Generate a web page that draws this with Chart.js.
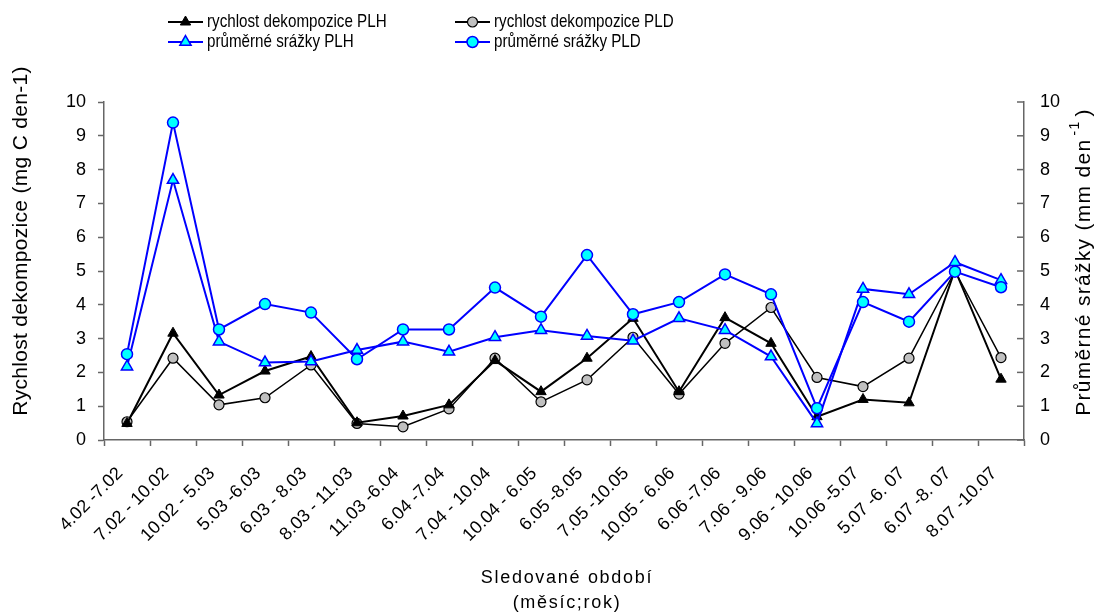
<!DOCTYPE html>
<html><head><meta charset="utf-8">
<script src="https://cdn.jsdelivr.net/npm/chart.js@4/dist/chart.umd.min.js"></script>
<style>html,body{margin:0;padding:0;background:#fff}#wrap{width:1105px;height:615px}</style>
</head><body><div id="wrap"><canvas id="c" width="1105" height="615"></canvas></div>
<script>
const categories = ["4.02 -7.02","7.02 - 10.02","10.02 - 5.03","5.03 -6.03","6.03 - 8.03","8.03 - 11.03","11.03 -6.04","6.04 -7.04","7.04 - 10.04","10.04 - 6.05","6.05 -8.05","7.05 -10.05","10.05 - 6.06","6.06 -7.06","7.06 - 9.06","9.06 - 10.06","10.06 -5.07","5.07 -6. 07","6.07 -8. 07","8.07 -10.07"];
const rychlostPLH = [0.49,3.16,1.33,2.04,2.47,0.51,0.71,1.04,2.35,1.43,2.42,3.60,1.43,3.62,2.86,0.69,1.20,1.10,5.03,1.80];
const rychlostPLD = [0.54,2.42,1.04,1.25,2.22,0.49,0.39,0.92,2.42,1.13,1.78,3.04,1.36,2.86,3.92,1.85,1.58,2.42,5.00,2.44];
const srazkyPLH = [2.17,7.69,2.91,2.29,2.32,2.66,2.91,2.61,3.04,3.25,3.08,2.94,3.60,3.25,2.47,0.49,4.47,4.31,5.26,4.73];
const srazkyPLD = [2.54,9.39,3.27,4.02,3.77,2.39,3.27,3.27,4.51,3.65,5.47,3.72,4.08,4.90,4.31,0.94,4.08,3.50,4.98,4.52];
const yTicks = [0,1,2,3,4,5,6,7,8,9,10];
const xTitle = ['Sledované období', '(měsíc;rok)'];
const yTitle = 'Rychlost dekompozice (mg C den-1)';
const y1TitleMain = 'Průměrné srážky (mm den';
const y1TitleSup = '-1';
const y1TitleEnd = ')';

const FONT = "'Liberation Sans', Arial, sans-serif";

const decorPlugin = {
  id: 'decor',
  afterDraw(chart) {
    const ctx = chart.ctx;
    ctx.save();
    // legend
    const pos = [[168,22],[455,22],[168,42],[455,42]];
    chart.data.datasets.forEach((ds, k) => {
      const [x, y] = pos[k];
      ctx.strokeStyle = ds.borderColor;
      ctx.lineWidth = 2;
      ctx.beginPath(); ctx.moveTo(x, y); ctx.lineTo(x + 35, y); ctx.stroke();
      ctx.fillStyle = ds.pointBackgroundColor;
      ctx.strokeStyle = ds.pointBorderColor;
      ctx.lineWidth = ds.pointBorderWidth;
      Chart.helpers.drawPoint(ctx, {pointStyle: ds.pointStyle, radius: ds.pointRadius, rotation: 0, borderWidth: ds.pointBorderWidth}, x + 17.5, y);
      ctx.save();
      ctx.fillStyle = '#000';
      ctx.font = '18.5px ' + FONT;
      ctx.textBaseline = 'middle';
      ctx.textAlign = 'left';
      ctx.translate(x + 39, y);
      ctx.scale(0.82, 1);
      ctx.fillText(ds.label, 0, 0);
      ctx.restore();
    });
    // right-axis inward ticks
    const s1 = chart.scales.y1;
    ctx.strokeStyle = '#666';
    ctx.lineWidth = 1.5;
    yTicks.forEach(v => {
      const py = s1.getPixelForValue(v);
      ctx.beginPath(); ctx.moveTo(s1.left - 7, py); ctx.lineTo(s1.left, py); ctx.stroke();
    });
    // x title
    ctx.fillStyle = '#000';
    ctx.textAlign = 'center';
    ctx.textBaseline = 'middle';
    ctx.font = '18px ' + FONT;
    ctx.letterSpacing = '1.7px';
    const cx = (chart.chartArea.left + chart.chartArea.right) / 2 + 3;
    ctx.fillText(xTitle[0], cx, 578);
    ctx.fillText(xTitle[1], cx, 603);
    // left title
    ctx.font = '21px ' + FONT;
    ctx.letterSpacing = '0.3px';
    ctx.save();
    ctx.translate(21, 241);
    ctx.rotate(-Math.PI / 2);
    ctx.fillText(yTitle, 0, 0);
    ctx.restore();
    // right title with superscript
    ctx.save();
    ctx.translate(1084, 262);
    ctx.rotate(-Math.PI / 2);
    ctx.textAlign = 'left';
    ctx.font = '21px ' + FONT;
    ctx.letterSpacing = '1.3px';
    const w1 = ctx.measureText(y1TitleMain).width;
    ctx.font = '14px ' + FONT;
    const w2 = ctx.measureText(y1TitleSup).width + 4;
    ctx.font = '21px ' + FONT;
    const w3 = ctx.measureText(y1TitleEnd).width;
    const total = w1 + w2 + w3 + 3;
    let xx = -total / 2;
    ctx.fillText(y1TitleMain, xx, 0); xx += w1 + 3;
    ctx.font = '14px ' + FONT;
    ctx.fillText(y1TitleSup, xx, -9); xx += w2;
    ctx.font = '21px ' + FONT;
    ctx.fillText(y1TitleEnd, xx, 0);
    ctx.restore();
    ctx.letterSpacing = '0px';
    ctx.restore();
  }
};

new Chart(document.getElementById('c'), {
  type: 'line',
  data: {
    labels: categories,
    datasets: [
      {label:'rychlost dekompozice PLH', data: rychlostPLH, yAxisID:'y', borderColor:'#000', borderWidth:2, pointStyle:'triangle', pointRadius:6, pointBackgroundColor:'#000', pointBorderColor:'#000', pointBorderWidth:1, tension:0, order:2},
      {label:'rychlost dekompozice PLD', data: rychlostPLD, yAxisID:'y', borderColor:'#000', borderWidth:1.5, pointStyle:'circle', pointRadius:5, pointBackgroundColor:'#c0c0c0', pointBorderColor:'#000', pointBorderWidth:1.2, tension:0, order:3},
      {label:'průměrné srážky PLH', data: srazkyPLH, yAxisID:'y1', borderColor:'#0000ff', borderWidth:2, pointStyle:'triangle', pointRadius:6.5, pointBackgroundColor:'#00ffff', pointBorderColor:'#0000ff', pointBorderWidth:1.5, tension:0, order:1},
      {label:'průměrné srážky PLD', data: srazkyPLD, yAxisID:'y1', borderColor:'#0000ff', borderWidth:2, pointStyle:'circle', pointRadius:5.5, pointBackgroundColor:'#00ffff', pointBorderColor:'#0000ff', pointBorderWidth:1.5, tension:0, order:0}
    ]
  },
  options: {
    responsive: false,
    animation: false,
    layout: {padding: {top: 102, right: 0, left: 0, bottom: 0}},
    plugins: {legend: {display:false}, tooltip: {enabled:false}},
    scales: {
      x: {
        offset: true,
        grid: {offset: true, drawOnChartArea: false, color:'#666', tickLength: 6, tickWidth: 1.5},
        border: {color:'#666', width: 1.5},
        ticks: {color:'#000', font:{family:FONT, size:18}, maxRotation:45, minRotation:45, autoSkip:false, padding: 17, labelOffset: -7},
        afterFit(s){ s.height = 175; }
      },
      y: {
        position:'left', min:0, max:10,
        afterBuildTicks(s){ s.ticks = yTicks.map(v=>({value:v})); },
        grid: {drawOnChartArea:false, color:'#666', tickLength:6, tickWidth:1.5},
        border: {color:'#666', width:1.5},
        ticks: {color:'#000', font:{family:FONT, size:18}, padding: 12},
        afterFit(s){ s.width = 104; }
      },
      y1: {
        position:'right', min:0, max:10,
        afterBuildTicks(s){ s.ticks = yTicks.map(v=>({value:v})); },
        grid: {drawOnChartArea:false, drawTicks:false, color:'#666'},
        border: {color:'#666', width:1.5},
        ticks: {color:'#000', font:{family:FONT, size:18}, padding: 16},
        afterFit(s){ s.width = 81; }
      }
    }
  },
  plugins: [decorPlugin]
});
</script>
</body></html>
